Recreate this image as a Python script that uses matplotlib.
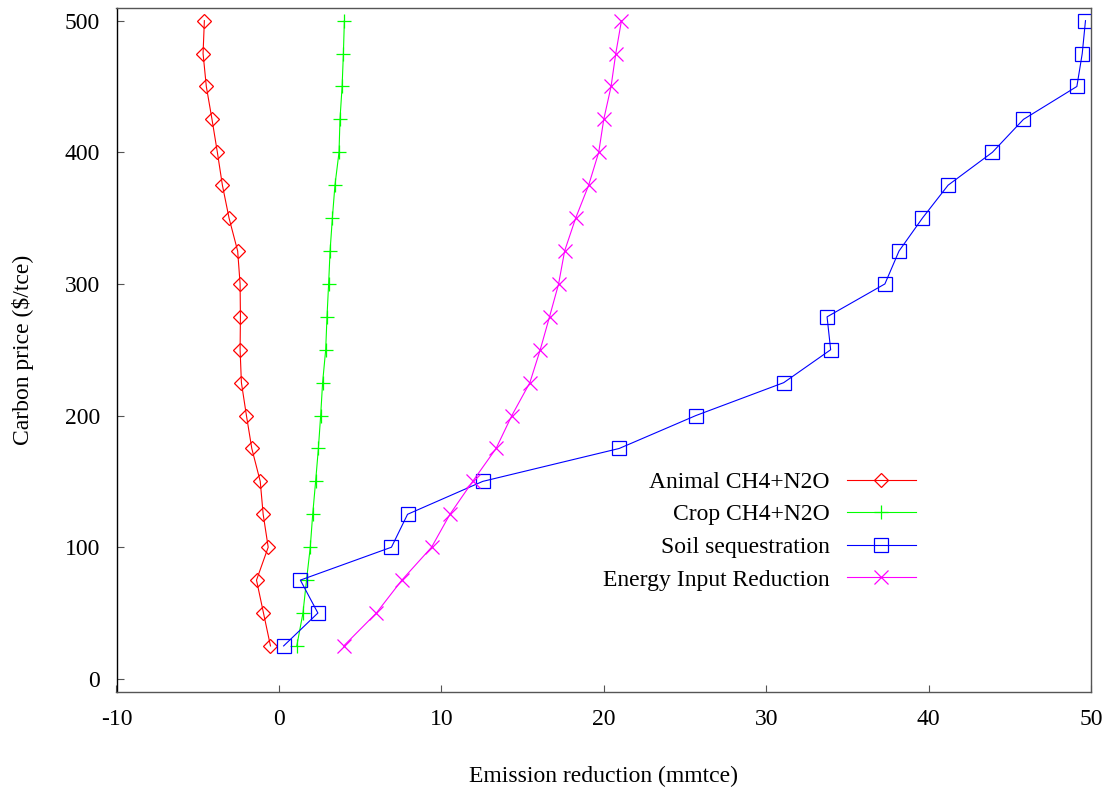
import matplotlib
matplotlib.use("Agg")
import matplotlib.pyplot as plt

plt.rcParams['font.family'] = ['Liberation Serif', 'DejaVu Serif']
plt.rcParams['axes.unicode_minus'] = False

# carbon price levels ($/tce)
price = [25, 50, 75, 100, 125, 150, 175, 200, 225, 250,
         275, 300, 325, 350, 375, 400, 425, 450, 475, 500]

# emission reduction (mmtce) per category
animal = [-0.52, -0.95, -1.38, -0.66, -0.97, -1.15, -1.67, -2.0, -2.31, -2.39,
          -2.37, -2.39, -2.54, -3.07, -3.48, -3.79, -4.12, -4.47, -4.67, -4.59]
crop = [1.1, 1.48, 1.7, 1.93, 2.08, 2.26, 2.43, 2.57, 2.69, 2.88,
        2.96, 3.06, 3.15, 3.29, 3.45, 3.7, 3.76, 3.89, 3.97, 4.03]
soil = [0.29, 2.4, 1.32, 6.93, 7.92, 12.55, 20.95, 25.67, 31.08, 33.97,
        33.75, 37.31, 38.18, 39.62, 41.2, 43.93, 45.84, 49.13, 49.46, 49.66]
energy = [3.99, 6.0, 7.57, 9.4, 10.53, 11.93, 13.37, 14.34, 15.45, 16.09,
          16.66, 17.22, 17.59, 18.27, 19.07, 19.69, 20.0, 20.45, 20.74, 21.09]

fs = 17

fig = plt.figure(figsize=(11.11, 7.92), dpi=100)
ax = fig.add_axes([116.5/1111, 1 - 692/792, (1091 - 116.5)/1111, (692 - 7.5)/792])

ax.plot(animal, price, color='#ff0000', lw=0.8, marker='D', ms=7.5, mfc='none', mew=0.9,
        label='Animal CH4+N2O')
ax.plot(crop, price, color='#00ff00', lw=0.8, marker='+', ms=9.5, mew=0.9,
        label='Crop CH4+N2O')
ax.plot(soil, price, color='#0000ff', lw=0.8, marker='s', ms=9.5, mfc='none', mew=0.9,
        label='Soil sequestration')
ax.plot(energy, price, color='#ff00ff', lw=0.8, marker='x', ms=9.5, mew=0.9,
        label='Energy Input Reduction')

ax.set_xlim(-10, 50)
ax.set_ylim(-10, 510)
ax.set_xticks(range(-10, 51, 10))
ax.set_yticks(range(0, 501, 100))

ax.tick_params(axis='both', direction='in', length=5, width=0.8, color='#555555',
               labelsize=fs, top=False, right=False)
ax.tick_params(axis='x', pad=12)
ax.tick_params(axis='y', pad=12)

for side in ['top', 'right', 'bottom']:
    ax.spines[side].set_color('#555555')
    ax.spines[side].set_linewidth(1.0)
ax.spines['left'].set_color('black')
ax.spines['left'].set_linewidth(1.0)

ax.set_xlabel('Emission reduction (mmtce)', fontsize=fs, va='baseline')
ax.xaxis.set_label_coords(0.5, (692 - 781.7) / 684.5)
ax.set_ylabel('Carbon price ($/tce)', fontsize=fs, va='center')
ax.yaxis.set_label_coords((23 - 116.5) / 974.5, 0.5)

ax.legend(loc='center right', bbox_to_anchor=(915.7/1111, 1 - 531/792),
          bbox_transform=fig.transFigure, frameon=False, markerfirst=False,
          fontsize=fs, borderpad=0, borderaxespad=0, handlelength=2.9,
          handletextpad=0.75, labelspacing=0.47)

fig.savefig('out.png', dpi=100)
